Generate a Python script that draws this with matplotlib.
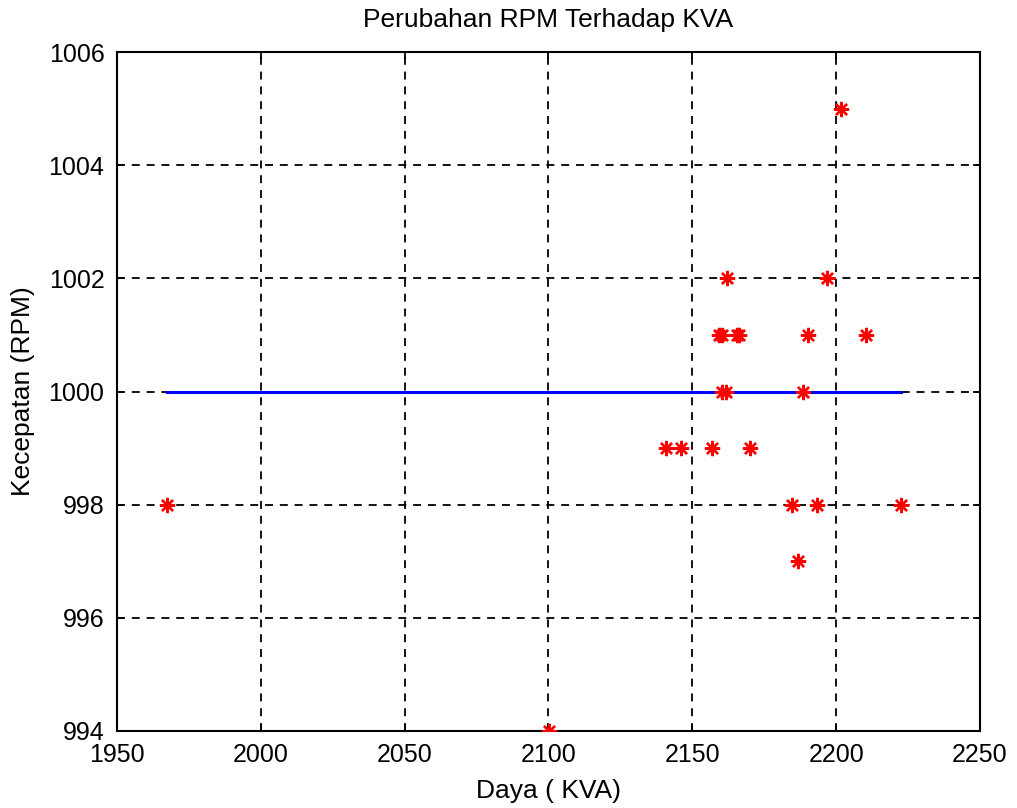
import matplotlib
matplotlib.use("Agg")
import matplotlib.pyplot as plt
import numpy as np

plt.rcParams['font.family'] = ['Liberation Sans', 'DejaVu Sans']

# Measured power (KVA) and speed (RPM)
daya_kva = [1967.4, 2100.3,
            2140.7, 2145.9, 2156.7, 2169.9,
            2161.9, 2196.9,
            2159.3, 2160.2, 2165.6, 2166.4, 2190.2, 2210.5,
            2160.4, 2161.6, 2188.4,
            2184.5, 2193.2, 2222.4,
            2186.8,
            2201.8]
kecepatan_rpm = [998, 994,
                 999, 999, 999, 999,
                 1002, 1002,
                 1001, 1001, 1001, 1001, 1001, 1001,
                 1000, 1000, 1000,
                 998, 998, 998,
                 997,
                 1005]

# Nominal speed reference
rpm_nominal = 1000

x_ticks = [1950, 2000, 2050, 2100, 2150, 2200, 2250]
y_ticks = [994, 996, 998, 1000, 1002, 1004, 1006]

fig = plt.figure(figsize=(10.17, 8.08), dpi=100)
ax = fig.add_axes([0.115, 0.0953, 0.8486, 0.8403])

ax.plot([min(daya_kva), max(daya_kva)], [rpm_nominal, rpm_nominal],
        color='#0000ff', linewidth=2.2, zorder=3)
ax.plot(daya_kva, kecepatan_rpm, linestyle='none', marker=(8, 2, 0),
        markersize=11, markeredgewidth=1.7, color='#ff0000', zorder=4)

ax.set_xlim(1950, 2250)
ax.set_ylim(994, 1006)
ax.set_xticks(x_ticks)
ax.set_yticks(y_ticks)
ax.grid(True, color='black', linestyle=(0, (4.4, 3.8)), linewidth=1.3)
ax.tick_params(direction='in', length=5, width=1.3, labelsize=18,
               top=True, right=True, pad=9)
for s in ax.spines.values():
    s.set_linewidth(1.5)

ax.set_xlabel('Daya ( KVA)', fontsize=19, labelpad=8)
ax.set_ylabel('Kecepatan (RPM)', fontsize=19, labelpad=10)
ax.set_title('Perubahan RPM Terhadap KVA', fontsize=19, pad=18)

fig.savefig('out.png', dpi=100, facecolor='white')
